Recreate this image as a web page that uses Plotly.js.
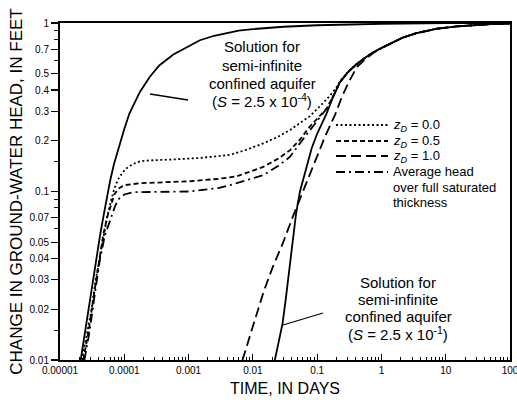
<!DOCTYPE html>
<html><head><meta charset="utf-8">
<script src="https://cdn.plot.ly/plotly-3.0.1.min.js"></script>
<style>html,body{margin:0;padding:0;background:#fff}#chart{width:517px;height:400px}</style>
</head><body><div id="chart"></div>
<script>
// Solution for semi-infinite confined aquifer, S = 2.5e-4
const confinedS4_t = [2.1e-5, 2.4e-5, 2.7e-5, 3.0e-5, 3.4e-5, 3.8e-5, 4.2e-5, 4.7e-5, 5.3e-5, 6.0e-5, 6.9e-5, 7.8e-5, 8.8e-5, 1.0e-4, 1.2e-4, 1.4e-4, 1.75e-4, 2.5e-4, 3.5e-4, 5.8e-4, 1e-3, 1.5e-3, 2.5e-3, 3.9e-3, 6e-3, 0.01, 0.03, 0.1, 1, 10, 100];
const confinedS4_h = [0.01, 0.014, 0.019, 0.025, 0.033, 0.043, 0.055, 0.07, 0.09, 0.115, 0.145, 0.172, 0.2, 0.235, 0.29, 0.33, 0.39, 0.48, 0.56, 0.65, 0.73, 0.79, 0.84, 0.87, 0.9, 0.92, 0.95, 0.97, 0.99, 0.997, 1.0];
// Solution for semi-infinite confined aquifer, S = 2.5e-1
const confinedS1_t = [0.022, 0.025, 0.029, 0.0325, 0.0355, 0.0385, 0.0416, 0.047, 0.054, 0.066, 0.082, 0.1, 0.14, 0.18, 0.226, 0.3, 0.4, 0.55, 0.75, 1, 1.5, 2.16, 3.5, 7.3, 15, 24, 50, 100];
const confinedS1_h = [0.01, 0.0125, 0.0165, 0.023, 0.03, 0.04, 0.052, 0.074, 0.1, 0.135, 0.18, 0.22, 0.29, 0.37, 0.445, 0.51, 0.565, 0.62, 0.67, 0.71, 0.77, 0.82, 0.87, 0.925, 0.955, 0.97, 0.985, 0.993];
// zD = 0.0
const zD00_t = [2.2e-5, 2.6e-5, 3.1e-5, 3.6e-5, 4.2e-5, 4.8e-5, 5.4e-5, 6.2e-5, 7.0e-5, 8.0e-5, 9.5e-5, 1.1e-4, 1.4e-4, 1.75e-4, 2.5e-4, 5.8e-4, 1.5e-3, 4.4e-3, 8e-3, 0.0145, 0.025, 0.038, 0.055, 0.077, 0.11, 0.158, 0.2, 0.226, 0.3, 0.4, 0.55, 0.75, 1, 1.5, 2.16, 3.5, 7.3, 15, 24, 50, 100];
const zD00_h = [0.01, 0.014, 0.02, 0.03, 0.042, 0.055, 0.07, 0.088, 0.104, 0.118, 0.13, 0.138, 0.146, 0.151, 0.153, 0.155, 0.158, 0.165, 0.177, 0.193, 0.212, 0.232, 0.255, 0.28, 0.32, 0.37, 0.415, 0.45, 0.51, 0.565, 0.62, 0.67, 0.71, 0.77, 0.82, 0.87, 0.925, 0.955, 0.97, 0.985, 0.993];
// zD = 0.5
const zD05_t = [2.3e-5, 2.8e-5, 3.4e-5, 4.0e-5, 4.7e-5, 5.4e-5, 6.2e-5, 7.0e-5, 8.1e-5, 1e-4, 1.75e-4, 1.05e-3, 3e-3, 5.6e-3, 0.0145, 0.025, 0.038, 0.055, 0.077, 0.1, 0.117, 0.14, 0.18, 0.226, 0.3, 0.4, 0.55, 0.75, 1, 1.5, 2.16, 3.5, 7.3, 15, 24, 50, 100];
const zD05_h = [0.01, 0.015, 0.025, 0.038, 0.055, 0.07, 0.084, 0.096, 0.104, 0.109, 0.112, 0.115, 0.119, 0.123, 0.14, 0.157, 0.176, 0.205, 0.243, 0.27, 0.29, 0.31, 0.37, 0.445, 0.51, 0.565, 0.62, 0.67, 0.71, 0.77, 0.82, 0.87, 0.925, 0.955, 0.97, 0.985, 0.993];
// zD = 1.0
const zD10_t = [0.0069, 0.0095, 0.0145, 0.02, 0.0297, 0.0425, 0.06, 0.08, 0.098, 0.135, 0.19, 0.243, 0.305, 0.41, 0.55, 0.75, 1, 1.5, 2.16, 3.5, 7.3, 15, 24, 50, 100];
const zD10_h = [0.01, 0.015, 0.025, 0.035, 0.05, 0.072, 0.1, 0.133, 0.16, 0.215, 0.285, 0.365, 0.44, 0.545, 0.605, 0.665, 0.71, 0.77, 0.82, 0.87, 0.925, 0.955, 0.97, 0.985, 0.993];
// Average head over full saturated thickness
const avg_t = [2.4e-5, 2.9e-5, 3.5e-5, 4.2e-5, 5.0e-5, 5.8e-5, 6.4e-5, 7.2e-5, 8.1e-5, 1e-4, 1.4e-4, 1.05e-3, 3e-3, 5.6e-3, 0.0145, 0.025, 0.038, 0.055, 0.087, 0.115, 0.14, 0.18, 0.226, 0.3, 0.4, 0.55, 0.75, 1, 1.5, 2.16, 3.5, 7.3, 15, 24, 50, 100];
const avg_h = [0.01, 0.015, 0.025, 0.04, 0.055, 0.066, 0.072, 0.082, 0.09, 0.096, 0.099, 0.1, 0.105, 0.112, 0.125, 0.142, 0.161, 0.195, 0.243, 0.28, 0.31, 0.37, 0.445, 0.51, 0.565, 0.62, 0.67, 0.71, 0.77, 0.82, 0.87, 0.925, 0.955, 0.97, 0.985, 0.993];

const xTickVals = [0.00001, 0.0001, 0.001, 0.01, 0.1, 1, 10, 100];
const xTickText = ['0.00001', '0.0001', '0.001', '0.01', '0.1', '1', '10', '100'];
const yTickVals = [0.01, 0.02, 0.03, 0.04, 0.05, 0.07, 0.1, 0.2, 0.3, 0.4, 0.5, 0.7, 1];
const yTickText = ['0.01', '0.02', '0.03', '0.04', '0.05', '0.07', '0.1', '0.2', '0.3', '0.4', '0.5', '0.7', '1'];
const yMinorVals = [0.015, 0.06, 0.08, 0.09, 0.15, 0.6, 0.8, 0.9];

const legendLabels = ['<i>z</i><sub><i>D</i></sub> = 0.0', '<i>z</i><sub><i>D</i></sub> = 0.5', '<i>z</i><sub><i>D</i></sub> = 1.0', 'Average head', 'over full saturated', 'thickness'];
const upperNote = ['Solution for', 'semi-infinite', 'confined aquifer', '(<i>S</i> = 2.5 x 10<sup>-4</sup>)'];
const lowerNote = ['Solution for', 'semi-infinite', 'confined aquifer', '(<i>S</i> = 2.5 x 10<sup>-1</sup>)'];

const xMinorVals = [];
for (let e = -5; e < 2; e++) for (let m = 2; m <= 9; m++) xMinorVals.push(m * Math.pow(10, e));

const FONT = 'Liberation Sans, Arial, Helvetica, sans-serif';
const W = 1.8;
function tr(x, y, dash) {
  return {x: x, y: y, type: 'scatter', mode: 'lines', showlegend: false, hoverinfo: 'skip',
    line: {color: '#000', width: W, dash: dash}};
}
const DASH = {dot: '2px,2.5px', short: '5px,3px', long: '10px,5px', dashdot: '9px,4px,2px,4px'};
const data = [
  tr(confinedS4_t, confinedS4_h, 'solid'),
  tr(confinedS1_t, confinedS1_h, 'solid'),
  tr(zD00_t, zD00_h, DASH.dot),
  tr(zD05_t, zD05_h, DASH.short),
  tr(zD10_t, zD10_h, DASH.long),
  tr(avg_t, avg_h, DASH.dashdot)
];

const L = 60, R = 510, T = 23, B = 360;
const px = v => (v - L) / (R - L);
const py = v => (B - v) / (B - T);

const annotations = [];
const shapes = [];
const upperY = [46.7, 65, 83.3, 100.7];
upperNote.forEach((t, i) => annotations.push({xref: 'paper', yref: 'paper', x: px(262), y: py(upperY[i]), text: t, showarrow: false, xanchor: 'center', yanchor: 'middle', font: {family: FONT, size: 15, color: '#000'}}));
const lowerY = [282, 299, 316.7, 333.3];
lowerNote.forEach((t, i) => annotations.push({xref: 'paper', yref: 'paper', x: px(398), y: py(lowerY[i]), text: t, showarrow: false, xanchor: 'center', yanchor: 'middle', font: {family: FONT, size: 15, color: '#000'}}));
const legY = [125, 141, 156, 172, 187, 202];
legendLabels.forEach((t, i) => annotations.push({xref: 'paper', yref: 'paper', x: px(391), y: py(legY[i]), text: t, showarrow: false, xanchor: 'left', yanchor: 'middle', font: {family: FONT, size: 13, color: '#000'}}));
const legDash = [DASH.dot, DASH.short, DASH.long, DASH.dashdot];
legDash.forEach((d, i) => shapes.push({type: 'line', xref: 'paper', yref: 'paper', x0: px(336), x1: px(388), y0: py(legY[i]), y1: py(legY[i]), line: {color: '#000', width: W, dash: d}}));
shapes.push({type: 'line', xref: 'paper', yref: 'paper', x0: px(150), y0: py(94), x1: px(188), y1: py(100), line: {color: '#000', width: 1.3}});
shapes.push({type: 'line', xref: 'paper', yref: 'paper', x0: px(283), y0: py(325), x1: px(323), y1: py(313), line: {color: '#000', width: 1.3}});

const tickFont = {family: FONT, size: 10, color: '#000'};
const layout = {
  width: 517, height: 400,
  margin: {l: L, r: 517 - R, t: T, b: 400 - B, pad: 0},
  paper_bgcolor: '#fff', plot_bgcolor: '#fff',
  showlegend: false,
  xaxis: {type: 'log', range: [-5, 2], tickmode: 'array', tickvals: xTickVals, ticktext: xTickText,
    ticks: 'inside', ticklen: 6, tickwidth: 1.2, tickcolor: '#000', showgrid: false, zeroline: false,
    showline: true, linecolor: '#000', linewidth: 2, mirror: true, tickfont: tickFont, ticklabeloverflow: 'allow',
    minor: {tickmode: 'array', tickvals: xMinorVals, ticks: 'inside', ticklen: 3, tickwidth: 1, tickcolor: '#000', showgrid: false},
    title: {text: 'TIME, IN DAYS', font: {family: FONT, size: 16, color: '#000'}, standoff: 8}},
  yaxis: {type: 'log', range: [-2, 0], tickmode: 'array', tickvals: yTickVals, ticktext: yTickText,
    ticks: 'outside', ticklen: 7, tickwidth: 1.2, tickcolor: '#000', showgrid: false, zeroline: false,
    showline: true, linecolor: '#000', linewidth: 2, mirror: true, tickfont: tickFont,
    minor: {tickmode: 'array', tickvals: yMinorVals, ticks: 'outside', ticklen: 4, tickwidth: 1, tickcolor: '#000', showgrid: false},
    title: {text: 'CHANGE IN GROUND-WATER HEAD, IN FEET', font: {family: FONT, size: 17, color: '#000'}, standoff: 3}},
  xaxis2: {type: 'log', range: [-5, 2], overlaying: 'x', side: 'top', anchor: 'y', tickmode: 'array', tickvals: xTickVals,
    showticklabels: false, ticks: 'inside', ticklen: 6, tickwidth: 1.2, tickcolor: '#000', showgrid: false, zeroline: false, showline: false,
    minor: {tickmode: 'array', tickvals: xMinorVals, ticks: 'inside', ticklen: 3, tickwidth: 1, tickcolor: '#000', showgrid: false}},
  yaxis2: {type: 'log', range: [-2, 0], overlaying: 'y', side: 'right', anchor: 'x', tickmode: 'array', tickvals: yTickVals,
    showticklabels: false, ticks: 'inside', ticklen: 6, tickwidth: 1.2, tickcolor: '#000', showgrid: false, zeroline: false, showline: false,
    minor: {tickmode: 'array', tickvals: yMinorVals, ticks: 'inside', ticklen: 3, tickwidth: 1, tickcolor: '#000', showgrid: false}},
  annotations: annotations,
  shapes: shapes
};
Plotly.newPlot('chart', data, layout, {staticPlot: true, displayModeBar: false});
</script></body></html>
